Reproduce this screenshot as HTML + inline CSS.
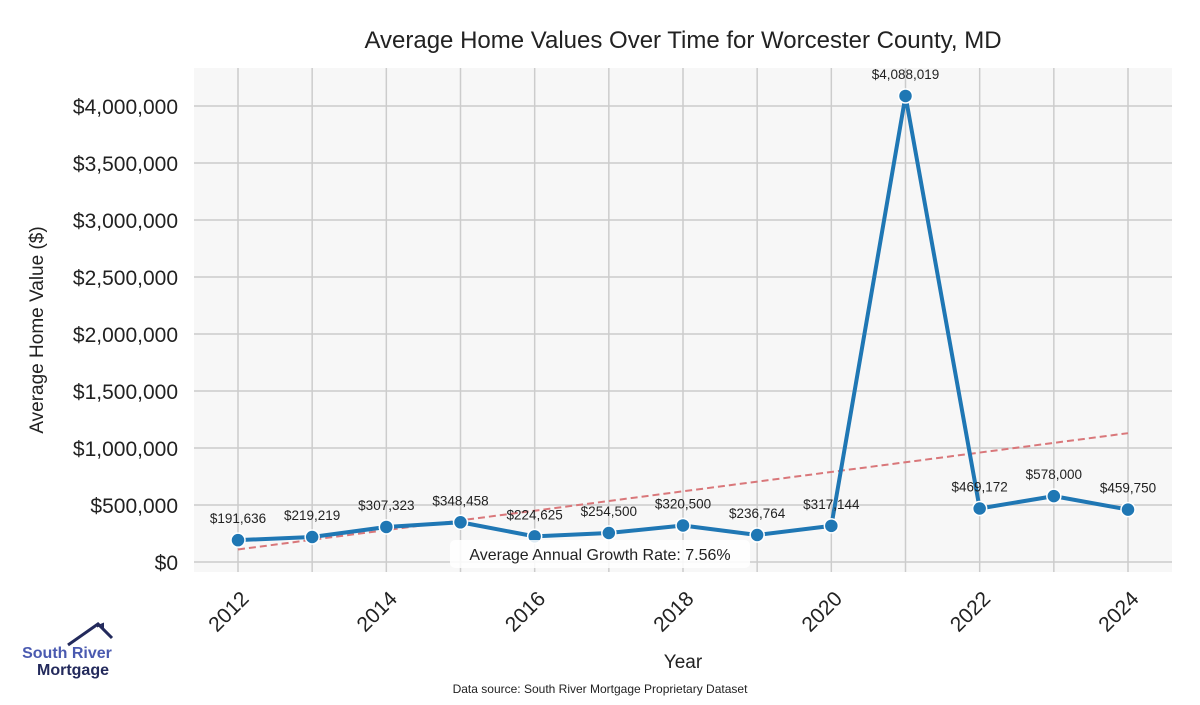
<!DOCTYPE html>
<html><head><meta charset="utf-8"><style>
body{margin:0;background:#fff;width:1200px;height:700px;overflow:hidden}
svg text{font-family:"Liberation Sans",sans-serif}
</style></head><body>
<svg id="c" width="1200" height="700">
<rect x="194" y="68" width="978" height="504" fill="#f7f7f7"/>
<g id="grid"></g><g id="trend"></g><g id="series"></g><g id="labels"></g>
<text x="683" y="48" text-anchor="middle" font-size="24" fill="#222">Average Home Values Over Time for Worcester County, MD</text>
<text x="683" y="668" text-anchor="middle" font-size="19" fill="#222">Year</text>
<text transform="translate(43,330) rotate(-90)" text-anchor="middle" font-size="19" fill="#222">Average Home Value ($)</text>
<text x="600" y="693" text-anchor="middle" font-size="12" fill="#222">Data source: South River Mortgage Proprietary Dataset</text>
<g>
<polyline points="68,645 98,624 112,638" fill="none" stroke="#232a5c" stroke-width="3"/>
<polyline points="98,624 98,626 103,624 103,630" fill="none" stroke="#232a5c" stroke-width="2"/>
<text x="67" y="658" text-anchor="middle" font-size="16" font-weight="bold" fill="#4a5ab0">South River</text>
<text x="73" y="675" text-anchor="middle" font-size="16" font-weight="bold" fill="#232a5c">Mortgage</text>
</g>
<g>
<rect x="450" y="540" width="300" height="28" rx="5" fill="#fff" fill-opacity="0.85"/>
<text x="600" y="560" text-anchor="middle" font-size="16" fill="#222">Average Annual Growth Rate: 7.56%</text>
</g>
</svg>
<script>
const years=[2012,2013,2014,2015,2016,2017,2018,2019,2020,2021,2022,2023,2024];
const values=[191636,219219,307323,348458,224625,254500,320500,236764,317144,4088019,469172,578000,459750];
const yTicks=[0,500000,1000000,1500000,2000000,2500000,3000000,3500000,4000000];
const xTicks=[2012,2014,2016,2018,2020,2022,2024];
const trendEnds=[110000,1130000];
const NS="http://www.w3.org/2000/svg";
const X=y=>238+(y-2012)*(1128-238)/12;
const Y=v=>562-v*(562-106)/4000000;
function mk(t,a,p){const e=document.createElementNS(NS,t);for(const k in a)e.setAttribute(k,a[k]);p.appendChild(e);return e;}
const fmt=v=>"$"+v.toLocaleString("en-US");
const g=document.getElementById("grid");
yTicks.forEach(v=>{
 const l=mk("line",{x1:194,x2:1172,y1:Y(v),y2:Y(v),stroke:"#cccccc","stroke-width":1.5},g);
 
 
 const t=mk("text",{x:178,y:Y(v)+8,"text-anchor":"end","font-size":21,fill:"#222"},g);
 t.textContent=fmt(v);
 
 
});
years.forEach(y=>{
 const l=mk("line",{x1:X(y),x2:X(y),y1:68,y2:572,stroke:"#cccccc","stroke-width":1.5},g);
 
 
});
xTicks.forEach(y=>{
 const t=mk("text",{transform:`translate(${X(y)+12},${600}) rotate(-45)`,"text-anchor":"end","font-size":21,fill:"#222"},g);
 t.textContent=y;
 
 
});
const tr=mk("line",{x1:X(years[0]),y1:Y(trendEnds[0]),x2:X(years[years.length-1]),y2:Y(trendEnds[1]),stroke:"#d9777a","stroke-width":2,"stroke-dasharray":"7,4"},document.getElementById("trend"));


const s=document.getElementById("series");
const pl=mk("polyline",{points:years.map((y,i)=>X(y)+","+Y(values[i])).join(" "),fill:"none",stroke:"#1f77b4","stroke-width":4,"stroke-linejoin":"round"},s);


const lb=document.getElementById("labels");
years.forEach((y,i)=>{
 const c=mk("circle",{cx:X(y),cy:Y(values[i]),r:7,fill:"#1f77b4",stroke:"#fff","stroke-width":1.5},s);
 
 
 const t=mk("text",{x:X(y),y:Y(values[i])-17,"text-anchor":"middle","font-size":13.5,fill:"#222"},lb);
 t.textContent=fmt(values[i]);
 
 
});
</script>
</body></html>
